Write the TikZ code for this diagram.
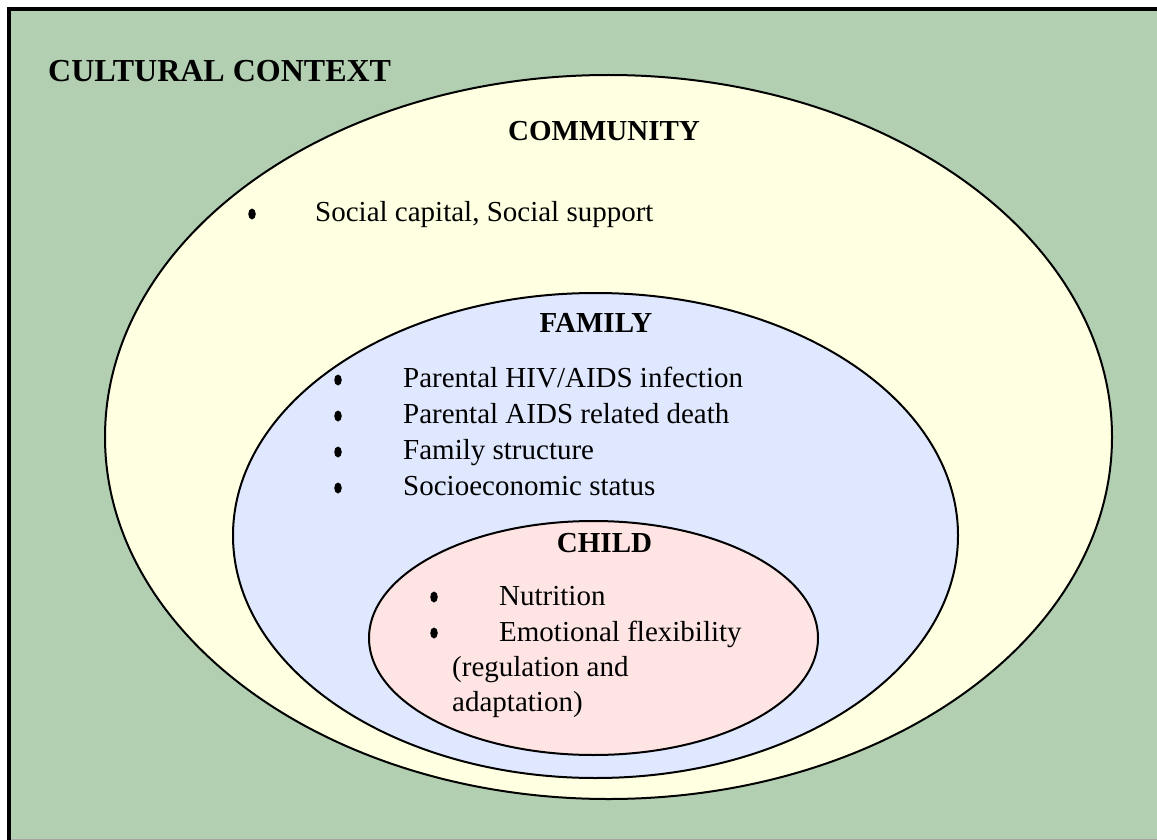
\documentclass[tikz,border=0pt]{standalone}
\usepackage{fontspec}
\setmainfont{Liberation Serif}
\usetikzlibrary{shapes.geometric}

\definecolor{contextgreen}{HTML}{B2CFB2}
\definecolor{communityyellow}{HTML}{FFFFE1}
\definecolor{familyblue}{HTML}{E0E8FF}
\definecolor{childpink}{HTML}{FFE4E4}

\tikzset{
  ring/.style={draw=black, line width=2pt},
  heading/.style={font=\fontsize{29}{34}\selectfont\bfseries, anchor=base, inner sep=0pt},
  item/.style={font=\fontsize{29}{34}\selectfont, anchor=base west, inner sep=0pt},
  bulletdot/.style={ellipse, fill=black, inner sep=0pt, minimum width=7.5pt, minimum height=11pt}
}

\begin{document}
\begin{tikzpicture}[x=1pt, y=-1pt]
  \useasboundingbox (0,0) rectangle (1157,840);

  % outer frame: cultural context
  \fill[contextgreen] (9,9) rectangle (1157,840);
  \draw[black!35, line width=1pt] (11,839.5) -- (1157,839.5);
  \draw[black, line width=4.5pt] (9,840) -- (9,9) -- (1157,9);
  \node[font=\fontsize{32}{38}\selectfont\bfseries, anchor=base west, inner sep=0pt]
    (context) at (48,82) {CULTURAL CONTEXT};

  % nested ellipses
  \draw[ring, fill=communityyellow] (608.5,437) ellipse [x radius=503.5, y radius=362];
  \draw[ring, fill=familyblue] (595.5,535.5) ellipse [x radius=362.5, y radius=242.5];
  \draw[ring, fill=childpink] (593.5,638) ellipse [x radius=224.5, y radius=117];

  % community
  \node[heading] (community) at (604,141) {COMMUNITY};
  \node[bulletdot] (cb1) at (252,214) {};
  \node[item] (c1) at (315,222) {Social capital, Social support};

  % family
  \node[heading] (family) at (596,332) {FAMILY};
  \node[bulletdot] (fb1) at (338,380) {};
  \node[item] (f1) at (403,387) {Parental HIV/AIDS infection};
  \node[bulletdot] (fb2) at (338,416) {};
  \node[item] (f2) at (403,423) {Parental AIDS related death};
  \node[bulletdot] (fb3) at (338,452) {};
  \node[item] (f3) at (403,459) {Family structure};
  \node[bulletdot] (fb4) at (338,488) {};
  \node[item] (f4) at (403,495) {Socioeconomic status};

  % child
  \node[heading] (child) at (604.5,552) {CHILD};
  \node[bulletdot] (kb1) at (434,597) {};
  \node[item] (k1) at (499,605) {Nutrition};
  \node[bulletdot] (kb2) at (434,633) {};
  \node[item] (k2) at (499,641) {Emotional flexibility};
  \node[item] (k3) at (452,676) {(regulation and};
  \node[item] (k4) at (452,711) {adaptation)};
\end{tikzpicture}
\end{document}
